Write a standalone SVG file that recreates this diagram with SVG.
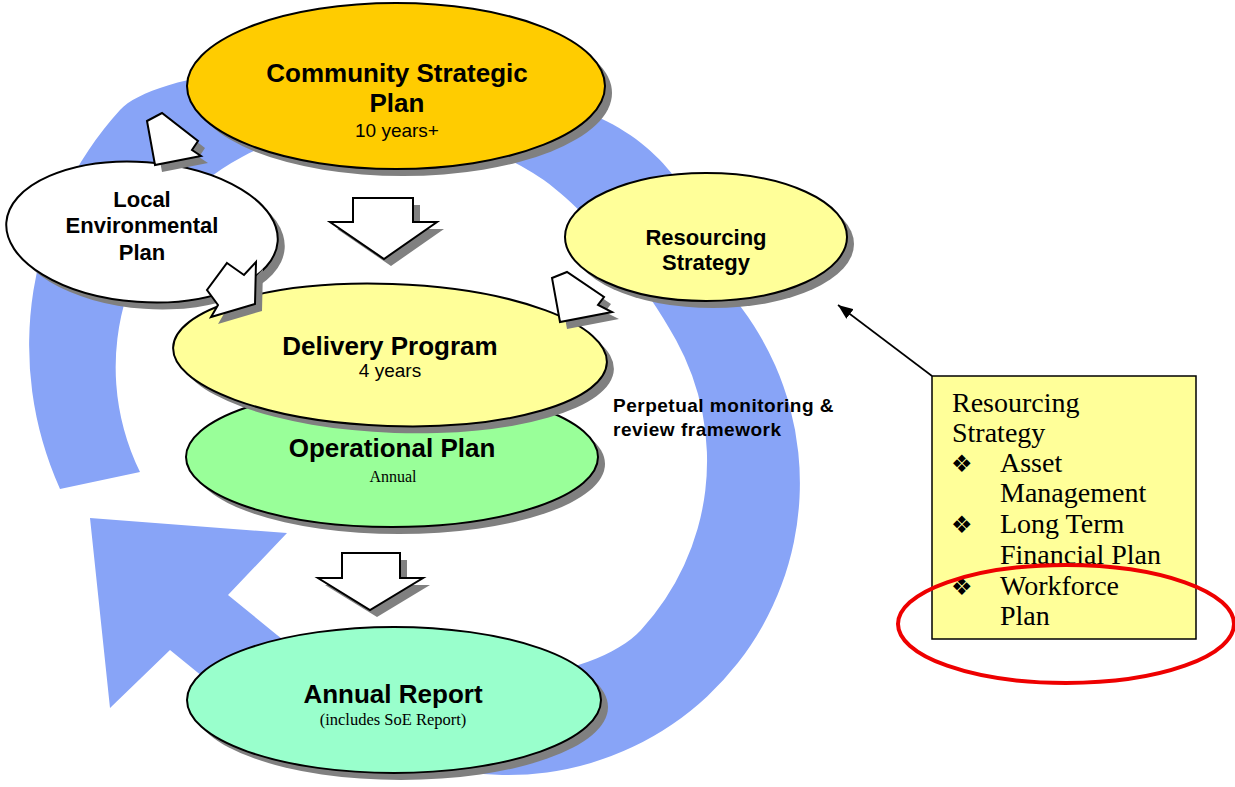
<svg xmlns="http://www.w3.org/2000/svg" width="1235" height="787" viewBox="0 0 1235 787">
  <style>
    .sh { fill: #808080; }
    .ol { stroke: #000; stroke-width: 2; }
    .hd { font-family: "Liberation Sans", Arial, sans-serif; font-weight: bold; text-anchor: middle; fill: #000; }
    .sub { font-family: "Liberation Sans", Arial, sans-serif; text-anchor: middle; fill: #000; }
    .ser { font-family: "Liberation Serif", "Times New Roman", serif; text-anchor: middle; fill: #000; }
    .lbl { font-family: "Liberation Sans", Arial, sans-serif; font-weight: bold; font-size: 19px; letter-spacing: 0.5px; fill: #000; }
    .blk { fill: #fff; stroke: #000; stroke-width: 2; stroke-linejoin: miter; }
    .note { font-family: "Liberation Serif", "Times New Roman", serif; font-size: 28px; fill: #000; }
    .bul { font-family: "DejaVu Sans", sans-serif; font-size: 24px; fill: #000; }
  </style>
  <defs>
    <marker id="ah" markerUnits="userSpaceOnUse" markerWidth="16" markerHeight="12" refX="15" refY="6" orient="auto">
      <path d="M0,0 L15,6 L0,12 Z" fill="#000"/>
    </marker>
  </defs>

  <rect width="1235" height="787" fill="#fff"/>

  <!-- big circular review arrow behind the plans -->
  <g id="cycle-arrow">
    <path fill="#88a4f7" d="M60,489 A350,350 0 0 1 120,110 C160,65 419,33 600,118 C690,160 705,235 727,290 A292,292 0 0 1 457.3,770.6 C349,751.5 259,722.6 197,672 L170,650 L110,708 L90,518 L287,533 L228,595 L277,635 C370,711 587,689 641,630 A250,250 0 0 0 676,340 C642,279 584,204 533,173 C448,121 330,110 242,157 A238,238 0 0 0 140,472 Z"/>
  </g>

  <g id="csp">
    <ellipse class="sh" cx="403" cy="93" rx="209" ry="83"/>
    <ellipse class="ol" cx="396" cy="86" rx="209" ry="83" fill="#ffcc00"/>
    <text class="hd" x="397" y="82" font-size="26">Community Strategic</text>
    <text class="hd" x="397" y="112" font-size="26">Plan</text>
    <text class="sub" x="397" y="137" font-size="19">10 years+</text>
  </g>

  <g id="lep">
    <ellipse class="sh" cx="149" cy="239" rx="136" ry="70" transform="rotate(4 149 239)"/>
    <ellipse class="ol" cx="142" cy="232" rx="136" ry="70" fill="#fff" transform="rotate(4 142 232)"/>
    <text class="hd" x="142" y="207" font-size="22">Local</text>
    <text class="hd" x="142" y="233" font-size="22">Environmental</text>
    <text class="hd" x="142" y="260" font-size="22">Plan</text>
  </g>

  <g id="resourcing-strategy">
    <ellipse class="sh" cx="713" cy="244" rx="141" ry="64"/>
    <ellipse class="ol" cx="706" cy="237" rx="141" ry="64" fill="#ffff99"/>
    <text class="hd" x="706" y="245" font-size="22">Resourcing</text>
    <text class="hd" x="706" y="270" font-size="22">Strategy</text>
  </g>

  <g id="operational-plan">
    <ellipse class="sh" cx="399" cy="464" rx="206" ry="70"/>
    <ellipse class="ol" cx="392" cy="457" rx="206" ry="70" fill="#99ff99"/>
    <text class="hd" x="392" y="457" font-size="26">Operational Plan</text>
    <text class="ser" x="393" y="482" font-size="16">Annual</text>
  </g>

  <g id="delivery-program">
    <ellipse class="sh" cx="397" cy="362" rx="217" ry="71" transform="rotate(2 397 362)"/>
    <ellipse class="ol" cx="390" cy="355" rx="217" ry="71" fill="#ffff99" transform="rotate(2 390 355)"/>
    <text class="hd" x="390" y="355" font-size="26">Delivery Program</text>
    <text class="sub" x="390" y="377" font-size="19">4 years</text>
  </g>

  <g id="annual-report">
    <ellipse class="sh" cx="401" cy="707" rx="207" ry="73"/>
    <ellipse class="ol" cx="394" cy="700" rx="207" ry="73" fill="#99ffcc"/>
    <text class="hd" x="393" y="703" font-size="26">Annual Report</text>
    <text class="ser" x="393" y="725" font-size="16.5">(includes SoE Report)</text>
  </g>

  <!-- block arrows between the plans -->
  <g id="flow-arrows">
    <g id="arrow-csp-dp">
      <polygon class="sh" transform="translate(7,7)" points="353,198 413,198 413,222 437,222 384,259 330,222 353,222"/>
      <polygon class="blk" points="353,198 413,198 413,222 437,222 384,259 330,222 353,222"/>
    </g>
    <g id="arrow-op-ar">
      <polygon class="sh" transform="translate(7,7)" points="342,553 400,553 400,578 423,578 370,610 318,578 342,578"/>
      <polygon class="blk" points="342,553 400,553 400,578 423,578 370,610 318,578 342,578"/>
    </g>
    <g id="arrow-lep-csp">
      <polygon class="sh" transform="translate(7,7)" points="147,121 162,113 198,141 192,150 201,156 155,165"/>
      <polygon class="blk" points="147,121 162,113 198,141 192,150 201,156 155,165"/>
    </g>
    <g id="arrow-lep-dp">
      <polygon class="sh" transform="translate(7,7)" points="227,263 244,275 256,262 255,304 211,317 218,305 207,290"/>
      <polygon class="blk" points="227,263 244,275 256,262 255,304 211,317 218,305 207,290"/>
    </g>
    <g id="arrow-dp-rs">
      <polygon class="sh" transform="translate(7,7)" points="552,278 567,272 604,297 598,305 612,312 560,322"/>
      <polygon class="blk" points="552,278 567,272 604,297 598,305 612,312 560,322"/>
    </g>
  </g>

  <g id="cycle-label">
    <text class="lbl" x="613" y="412">Perpetual monitoring &amp;</text>
    <text class="lbl" x="613" y="436">review framework</text>
  </g>

  <g id="connectors">
    <line x1="932" y1="376" x2="838" y2="305" stroke="#000" stroke-width="1.6" marker-end="url(#ah)"/>
  </g>

  <g id="resourcing-note">
    <rect x="932" y="376" width="264" height="263" fill="#ffff99" stroke="#000" stroke-width="1.5"/>
    <text class="note" x="952" y="412">Resourcing</text>
    <text class="note" x="952" y="442">Strategy</text>
    <text class="bul" x="951" y="472">❖</text>
    <text class="note" x="1000" y="472">Asset</text>
    <text class="note" x="1000" y="502">Management</text>
    <text class="bul" x="951" y="533">❖</text>
    <text class="note" x="1000" y="533">Long Term</text>
    <text class="note" x="1000" y="564">Financial Plan</text>
    <text class="bul" x="951" y="595">❖</text>
    <text class="note" x="1000" y="595">Workforce</text>
    <text class="note" x="1000" y="625">Plan</text>
  </g>

  <g id="highlight">
    <ellipse cx="1066" cy="624" rx="168" ry="59" fill="none" stroke="#ee0000" stroke-width="4"/>
  </g>
</svg>
